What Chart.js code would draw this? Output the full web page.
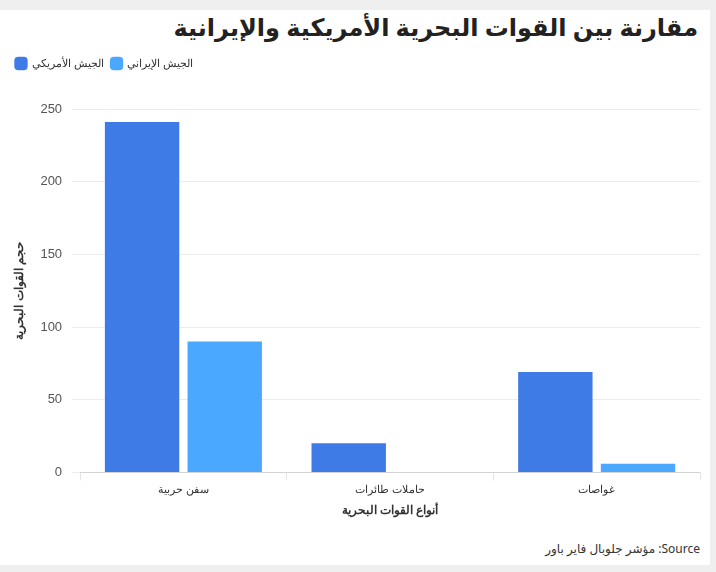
<!DOCTYPE html>
<html><head><meta charset="utf-8">
<script src="https://cdn.jsdelivr.net/npm/chart.js@4"></script>
<style>
html,body{margin:0;padding:0;background:#efefef;}
#card{position:absolute;left:0;top:10px;width:710px;height:555px;background:#fff;}
#title{position:absolute;right:12px;top:0px;font:bold 24px "Noto Sans","DejaVu Sans",sans-serif;color:#222;direction:rtl;}
#src{position:absolute;right:10px;bottom:8px;font:12px "Noto Sans","DejaVu Sans",sans-serif;color:#333;}
#wrap{position:absolute;left:0;top:40px;width:710px;height:472px;}
</style></head><body>
<div id="card"><div id="title">مقارنة بين القوات البحرية الأمريكية والإيرانية</div>
<div id="wrap"><canvas id="c"></canvas></div>
<div id="src">مؤشر جلوبال فاير باور :Source</div></div>
<script>
const categories=["سفن حربية","حاملات طائرات","غواصات"];
const usValues=[241,20,69];
const iranValues=[90,0,6];
new Chart(document.getElementById('c'),{type:'bar',
data:{labels:categories,datasets:[
{label:"الجيش الأمريكي",data:usValues,backgroundColor:"#3f7be6",borderColor:"#3f7be6",borderWidth:0},
{label:"الجيش الإيراني",data:iranValues,backgroundColor:"#4aa8ff",borderColor:"#4aa8ff",borderWidth:0}]},
options:{responsive:true,maintainAspectRatio:false,animation:false,
layout:{padding:{left:8,right:10,top:0,bottom:0}},
plugins:{legend:{align:'start',labels:{usePointStyle:true,pointStyle:'rectRounded',boxWidth:10,boxHeight:12,padding:8,color:'#333',font:{size:11}}},
tooltip:{enabled:false}},
scales:{x:{grid:{display:true,drawOnChartArea:false,color:'#e5e5e5'},ticks:{color:'#333',font:{size:11}},
title:{display:true,text:"أنواع القوات البحرية",color:'#333',font:{size:12,weight:'bold'}},categoryPercentage:0.78,barPercentage:0.9},
y:{min:0,max:250,border:{display:false},grid:{color:'#ececec'},ticks:{stepSize:50,color:'#555',font:{size:13},padding:10},
title:{display:true,text:"حجم القوات البحرية",color:'#333',font:{size:12,weight:'bold'}}}}},
plugins:[{id:'legendGap',beforeInit(c){const f=c.legend.fit;c.legend.fit=function(){f.bind(c.legend)();this.height+=30;};}}]});
</script></body></html>
